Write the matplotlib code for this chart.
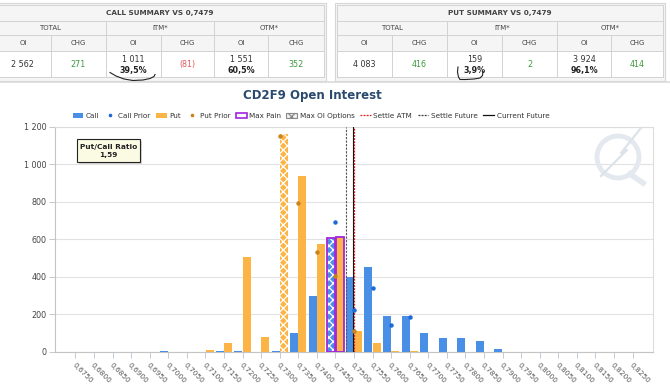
import numpy as np
import matplotlib
matplotlib.use("Agg")
import matplotlib.pyplot as plt
from matplotlib.patches import Rectangle, Circle, Patch
from matplotlib.lines import Line2D

plt.rcParams['font.family'] = ['DejaVu Sans']
plt.rcParams['hatch.linewidth'] = 0.9

# ---- data ----
strike_labels = ["0,6750", "0,6800", "0,6850", "0,6900", "0,6950", "0,7000", "0,7050", "0,7100",
                 "0,7150", "0,7200", "0,7250", "0,7300", "0,7350", "0,7400", "0,7450", "0,7500",
                 "0,7550", "0,7600", "0,7650", "0,7700", "0,7750", "0,7800", "0,7850", "0,7900",
                 "0,7950", "0,8000", "0,8050", "0,8100", "0,8150", "0,8200", "0,8250"]
call_oi = [0, 0, 0, 0, 0, 2, 0, 0, 3, 3, 0, 3, 100, 295, 605, 400,
           455, 192, 188, 98, 75, 75, 55, 13, 0, 0, 0, 0, 0, 0, 0]
put_oi = [0, 0, 0, 0, 0, 0, 0, 10, 46, 504, 76, 1160, 939, 575, 614, 108,
          45, 3, 3, 0, 0, 0, 0, 0, 0, 0, 0, 0, 0, 0, 0]
nan = np.nan
call_prior = [nan, nan, nan, nan, nan, nan, nan, nan, nan, nan, nan, nan, nan, nan, 691, 222,
              338, 142, 186, nan, nan, nan, nan, nan, nan, nan, nan, nan, nan, nan, nan]
put_prior = [nan, nan, nan, nan, nan, nan, nan, nan, nan, nan, nan, 1150, 793, 532, 404, 108,
             nan, nan, nan, nan, nan, nan, nan, nan, nan, nan, nan, nan, nan, nan, nan]
max_pain = "0,7450"
max_oi_call = "0,7450"
max_oi_put = "0,7300"
settle_atm = 0.7500
settle_future = 0.7479
current_future = 0.7498
put_call_ratio = "1,59"

call_summary = ["2 562", "271", "1 011", "(81)", "1 551", "352"]
call_pct = ["", "", "39,5%", "", "60,5%", ""]
put_summary = ["4 083", "416", "159", "2", "3 924", "414"]
put_pct = ["", "", "3,9%", "", "96,1%", ""]

strikes = np.array([float(s.replace(",", ".")) for s in strike_labels])
call_oi = np.array(call_oi)
put_oi = np.array(put_oi)

W, H = 670, 385
fig = plt.figure(figsize=(6.7, 3.85), dpi=100)

CALL = '#4a8fe6'
PUT = '#fdb446'
PURPLE = '#a224e0'
GRID = '#e2e2e2'

# ---- chart ----
ax = fig.add_axes([55 / W, (H - 351.7) / H, 598 / W, (351.7 - 127) / H])
ax.set_facecolor('none')
bw = 0.00215
gap = 0.00005
for i, s in enumerate(strike_labels):
    hatched_c = s == max_oi_call
    hatched_p = s == max_oi_put
    ax.bar(strikes[i] - bw / 2 - gap, call_oi[i], width=bw, color=CALL,
           edgecolor='white' if hatched_c else 'none', hatch='xxxx' if hatched_c else None,
           linewidth=0, zorder=3)
    ax.bar(strikes[i] + bw / 2 + gap, put_oi[i], width=bw, color=PUT,
           edgecolor='white' if hatched_p else 'none', hatch='xxxx' if hatched_p else None,
           linewidth=0, zorder=3)
    if s == max_pain:
        ax.bar(strikes[i] - bw / 2 - gap, call_oi[i], width=bw, facecolor='none',
               edgecolor=PURPLE, linewidth=1.3, zorder=4)
        ax.bar(strikes[i] + bw / 2 + gap, put_oi[i], width=bw, facecolor='none',
               edgecolor=PURPLE, linewidth=1.3, zorder=4)

ax.plot(strikes, call_prior, 'o', color='#1c6ad6', markersize=2.2, zorder=6)
ax.plot(strikes, put_prior, 'o', color='#c98420', markersize=2.2, zorder=6)

ax.axvline(settle_future, color='#555555', lw=0.8, ls=(0, (2, 1.2)), zorder=5)
ax.axvline(current_future, color='#111111', lw=0.8, zorder=5)
ax.axvline(settle_atm, color='#e01818', lw=0.9, ls=(0, (1.5, 1)), zorder=5)

ax.set_xlim(0.6695, 0.8305)
ax.set_ylim(0, 1200)
ax.set_xticks(strikes)
ax.set_xticklabels(strike_labels, rotation=-45, ha='left', va='top', rotation_mode='anchor',
                   fontsize=5.3, color='#555555')
ax.set_yticks([0, 200, 400, 600, 800, 1000, 1200])
ax.set_yticklabels(["0", "200", "400", "600", "800", "1 000", "1 200"], fontsize=5.8,
                   color='#444444')
ax.tick_params(axis='x', length=4, width=0.7, color='#c0cad6', pad=3)
ax.tick_params(axis='y', length=4, width=0.7, color='#c8c8c8', pad=2)
ax.grid(axis='y', color=GRID, lw=0.8, zorder=0)
for side in ['left', 'bottom']:
    ax.spines[side].set_color('#c4c4c4')
    ax.spines[side].set_linewidth(0.8)
for side in ['top', 'right']:
    ax.spines[side].set_color('#dcdcdc')
    ax.spines[side].set_linewidth(0.8)

# legend
handles = [
    Patch(facecolor=CALL, edgecolor='none'),
    Line2D([], [], ls='none', marker='o', markersize=1.6, color='#1c6ad6'),
    Patch(facecolor=PUT, edgecolor='none'),
    Line2D([], [], ls='none', marker='o', markersize=1.6, color='#c98420'),
    Patch(facecolor='white', edgecolor=PURPLE, linewidth=1.2),
    Patch(facecolor='#f0f0f0', edgecolor='#888888', hatch='xxxx', linewidth=0.8),
    Line2D([], [], color='#e01818', lw=0.9, ls=(0, (1.5, 1))),
    Line2D([], [], color='#333333', lw=0.9, ls=(0, (1.5, 1))),
    Line2D([], [], color='#111111', lw=0.9),
]
labels = ["Call", "Call Prior", "Put", "Put Prior", "Max Pain", "Max OI Options",
          "Settle ATM", "Settle Future", "Current Future"]
fig.legend(handles, labels, ncol=9, loc='center', bbox_to_anchor=(311 / W, 1 - 115.7 / H),
           frameon=False, fontsize=5.2, handlelength=1.5, handleheight=0.8,
           handletextpad=0.35, columnspacing=0.75, labelcolor='#333333')

# ---- overlay: tables, title, notes ----
ov = fig.add_axes([0, 0, 1, 1], zorder=5)
ov.set_xlim(0, W)
ov.set_ylim(H, 0)
ov.axis('off')
ov.patch.set_alpha(0)

fig.text(312 / W, 1 - 95 / H, "CD2F9 Open Interest", ha='center', va='center',
         fontsize=8.5, fontweight='bold', color='#2a4a6e')


def draw_summary(cols, title, values, pcts):
    x0, x1 = cols[0], cols[-1]
    ov.add_patch(Rectangle((x0 - 2, 2.5), x1 - x0 + 4, 78, fc='#f5f5f5', ec='#d6d6d6', lw=0.8))
    ov.add_patch(Rectangle((x0, 51), x1 - x0, 26, fc='white', ec='none'))
    lc = '#d2d2d2'
    for y in [5, 21, 35, 51, 77]:
        ov.plot([x0, x1], [y, y], color=lc, lw=0.7)
    for x in [x0, x1]:
        ov.plot([x, x], [5, 77], color=lc, lw=0.7)
    for x in cols[2:-1:2]:
        ov.plot([x, x], [21, 77], color=lc, lw=0.7)
    for x in cols[1:-1:2]:
        ov.plot([x, x], [35, 77], color=lc, lw=0.7)
    ov.text((x0 + x1) / 2, 13.3, title, ha='center', va='center', fontsize=5.2,
            fontweight='bold', color='#444444')
    for k, g in enumerate(["TOTAL", "ITM*", "OTM*"]):
        ov.text((cols[2 * k] + cols[2 * k + 2]) / 2, 28, g, ha='center', va='center',
                fontsize=5.0, color='#444444')
    for k in range(6):
        cx = (cols[k] + cols[k + 1]) / 2
        ov.text(cx, 43.3, "OI" if k % 2 == 0 else "CHG", ha='center', va='center',
                fontsize=5.0, color='#444444')
        v = values[k]
        col = '#333333'
        if k % 2 == 1:
            col = '#e05a5a' if v.startswith("(") else '#3e9a3e'
        if pcts[k]:
            ov.text(cx, 59, v, ha='center', va='center', fontsize=5.8, color=col)
            ov.text(cx, 71, pcts[k], ha='center', va='center', fontsize=5.8,
                    fontweight='bold', color='#222222')
        else:
            ov.text(cx, 64.5, v, ha='center', va='center', fontsize=5.8, color=col)


draw_summary([-5, 50.7, 106, 160.7, 214, 268, 324], "CALL SUMMARY VS 0,7479",
             call_summary, call_pct)
draw_summary([337, 392, 447, 502, 557, 611, 663], "PUT SUMMARY VS 0,7479",
             put_summary, put_pct)
ov.plot([0, W], [82, 82], color='#dadada', lw=1.2)

# hand drawn marks under the ITM percentages
ov.plot([110, 116, 124, 133, 143, 150, 154, 155], [72.5, 76, 79, 80.5, 80, 78.5, 76.5, 74.5],
        color='#222222', lw=0.8)
ov.plot([458, 457.5, 458.5, 460, 466, 474, 480, 482.5, 483], [67, 72, 77, 79.5, 79.5, 79, 78, 75.5, 71.5],
        color='#222222', lw=0.8)

# put/call ratio box
ov.add_patch(Rectangle((79, 141), 63, 23, fc='#bdbdbd', ec='none', alpha=0.6))
ov.add_patch(Rectangle((77, 139), 63, 23, fc='#fbfbe4', ec='#222222', lw=0.8))
ov.text(108.5, 146.5, "Put/Call Ratio", ha='center', va='center', fontsize=5.3,
        fontweight='bold', color='#222222')
ov.text(108.5, 155.5, put_call_ratio, ha='center', va='center', fontsize=5.3,
        fontweight='bold', color='#222222')

# faint logo
wm = '#e4e9ef'
ov.add_patch(Circle((618, 157), 21, fill=False, ec=wm, lw=3.5))
ov.plot([641, 621, 627, 601], [128, 153, 150, 176], color='#dde3ea', lw=1.6)
ov.plot([630, 643], [174, 183], color=wm, lw=4)

fig.savefig("out.png", dpi=100)
